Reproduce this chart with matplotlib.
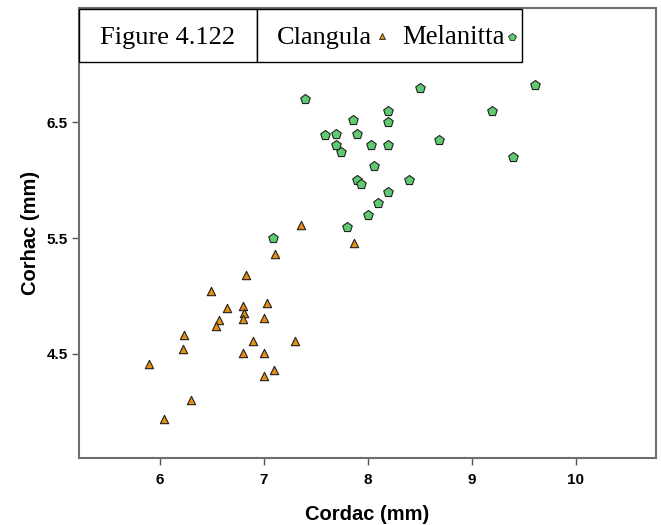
import matplotlib
matplotlib.use("Agg")
import matplotlib.pyplot as plt
from matplotlib.patches import Rectangle
from matplotlib.lines import Line2D

# ---- data ----
clangula_x = [7.36, 7.87, 7.11, 6.83, 6.49, 6.65, 6.80, 7.03, 6.81, 6.80, 7.00, 6.57,
              6.54, 6.24, 6.23, 6.90, 7.30, 6.80, 7.00, 5.90, 7.10, 7.00, 6.30, 6.04]
clangula_y = [5.61, 5.46, 5.36, 5.18, 5.04, 4.90, 4.91, 4.94, 4.85, 4.80, 4.81, 4.79,
              4.74, 4.66, 4.54, 4.61, 4.61, 4.51, 4.51, 4.41, 4.36, 4.31, 4.10, 3.94]
melanitta_x = [7.40, 8.50, 9.61, 8.20, 9.20, 7.86, 8.20, 7.59, 7.70, 7.90, 7.70, 7.74,
               8.03, 8.20, 8.69, 9.40, 8.06, 7.90, 7.94, 8.40, 8.20, 8.10, 8.00, 7.80, 7.09]
melanitta_y = [6.70, 6.80, 6.82, 6.60, 6.60, 6.52, 6.50, 6.39, 6.40, 6.40, 6.30, 6.24,
               6.30, 6.30, 6.35, 6.20, 6.12, 6.00, 5.97, 6.00, 5.90, 5.80, 5.70, 5.60, 5.50]
x_ticks = [6, 7, 8, 9, 10]
y_ticks = [4.5, 5.5, 6.5]
x_label = "Cordac (mm)"
y_label = "Corhac (mm)"
title_text = "Figure 4.122"
series_names = ["Clangula", "Melanitta"]

ORANGE = "#e68e12"
GREEN = "#5ecb70"

W, H = 661, 525
fig = plt.figure(figsize=(W / 100, H / 100), dpi=100)

def fx(px):
    return px / W

def fy(py):
    return 1 - py / H

ax = fig.add_axes([fx(79), fy(458), (655.5 - 79) / W, (458 - 8) / H])
ax.scatter(clangula_x, clangula_y, marker="^", s=36, c=ORANGE,
           edgecolors="#222222", linewidths=0.8, zorder=3)
ax.scatter(melanitta_x, melanitta_y, marker="p", s=52, c=GREEN,
           edgecolors="#222222", linewidths=0.8, zorder=3)

ax.set_xlim(5.226, 10.767)
ax.set_ylim(3.602, 7.487)
ax.set_xticks(x_ticks)
ax.set_yticks(y_ticks)
ax.set_xticklabels([str(t) for t in x_ticks])
ax.set_yticklabels([str(t) for t in y_ticks])
for s in ax.spines.values():
    s.set_color("#6e6e6e")
    s.set_linewidth(1.5)
ax.tick_params(axis="both", direction="out", length=5, width=1.0,
               color="#555555", labelsize=11, pad=3)
ax.tick_params(axis="x", pad=6)
for lbl in ax.get_xticklabels() + ax.get_yticklabels():
    lbl.set_fontfamily("Liberation Sans")
    lbl.set_fontweight("bold")

ax.set_xlabel(x_label, fontsize=14.5, fontweight="bold",
              fontfamily="Liberation Sans", labelpad=13)
ax.set_ylabel(y_label, fontsize=14.5, fontweight="bold",
              fontfamily="Liberation Sans", labelpad=5)

# legend boxes
for x0, x1 in [(79, 257), (257, 522)]:
    fig.add_artist(Rectangle((fx(x0), fy(62)), (x1 - x0) / W, (62 - 9) / H,
                             transform=fig.transFigure, facecolor="white",
                             edgecolor="black", linewidth=1.0, zorder=5))

fig.text(fx(168), fy(44), title_text, fontsize=19, fontfamily="Liberation Serif",
         ha="center", va="baseline", zorder=6)
fig.text(fx(277), fy(44), series_names[0], fontsize=19, fontfamily="Liberation Serif",
         ha="left", va="baseline", zorder=6)
fig.add_artist(Line2D([fx(382)], [fy(36)], marker="^", markersize=4.8,
                      markerfacecolor=ORANGE, markeredgecolor="#222222",
                      markeredgewidth=0.6, linestyle="none",
                      transform=fig.transFigure, zorder=6))
fig.text(fx(402), fy(44), series_names[1], fontsize=19.3, fontfamily="Liberation Serif",
         ha="left", va="baseline", zorder=6)
fig.add_artist(Line2D([fx(512)], [fy(37)], marker="p", markersize=5.5,
                      markerfacecolor=GREEN, markeredgecolor="#222222",
                      markeredgewidth=0.6, linestyle="none",
                      transform=fig.transFigure, zorder=6))

fig.savefig("out.png", dpi=100)
